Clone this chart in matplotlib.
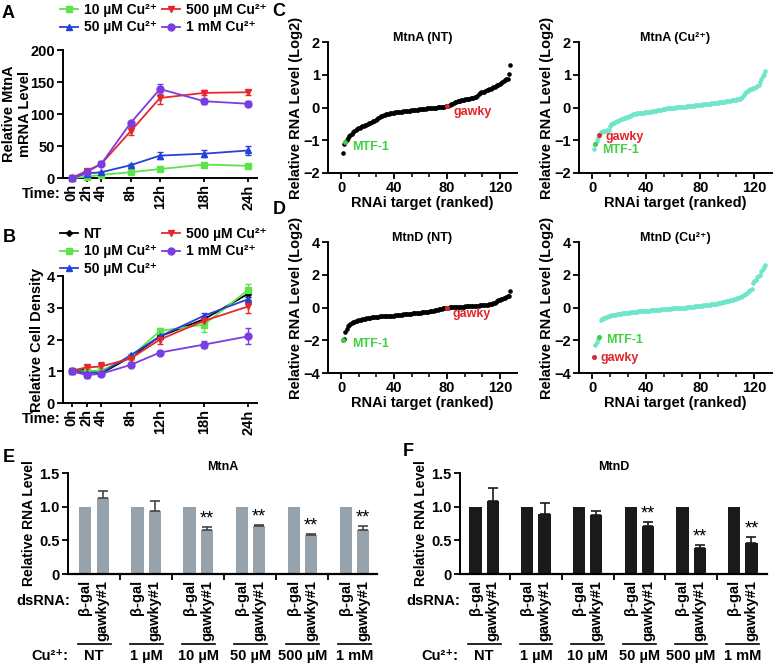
import numpy as np
import matplotlib.pyplot as plt
from matplotlib.lines import Line2D
from matplotlib.ticker import MultipleLocator

plt.rcParams['font.family'] = ['Liberation Sans', 'DejaVu Sans']
plt.rcParams['font.weight'] = 'bold'
plt.rcParams['axes.linewidth'] = 1.4

W, H = 780, 665

# ---- panel A / B : time course ----
TIMES = [0, 2, 4, 8, 12, 18, 24]
TIME_LABELS = ['0h', '2h', '4h', '8h', '12h', '18h', '24h']

A_10UM = [0, 2, 5, 9, 14, 21, 19]
A_10UM_ERR = [0.5, 0.5, 0.5, 1, 2, 3, 3]
A_50UM = [0, 7, 9, 20, 35, 38, 43]
A_50UM_ERR = [0.5, 1, 1, 2, 5, 5, 7]
A_500UM = [0, 11, 22, 73, 125, 133, 134]
A_500UM_ERR = [0.5, 2, 2, 6, 10, 4, 4]
A_1MM = [0, 9, 22, 86, 139, 120, 116]
A_1MM_ERR = [0.5, 1, 1, 2, 8, 4, 4]

B_NT = [1.0, 1.05, 0.93, 1.45, 2.1, 2.64, 3.44]
B_NT_ERR = [0.03, 0.03, 0.03, 0.05, 0.05, 0.1, 0.1]
B_10UM = [1.0, 1.0, 1.02, 1.45, 2.27, 2.47, 3.56]
B_10UM_ERR = [0.03, 0.05, 0.05, 0.05, 0.08, 0.22, 0.2]
B_50UM = [1.0, 0.95, 0.95, 1.5, 2.1, 2.75, 3.27]
B_50UM_ERR = [0.03, 0.08, 0.05, 0.05, 0.05, 0.1, 0.15]
B_500UM = [1.02, 1.12, 1.15, 1.4, 2.0, 2.59, 3.04]
B_500UM_ERR = [0.05, 0.05, 0.15, 0.1, 0.15, 0.1, 0.2]
B_1MM = [1.0, 0.88, 0.92, 1.2, 1.59, 1.84, 2.1]
B_1MM_ERR = [0.03, 0.1, 0.05, 0.05, 0.05, 0.12, 0.25]

# ---- panel C / D : ranked RNAi screen ----
MTNA_NT = [
    -1.38, -1.12, -1.05, -1.00, -0.93, -0.88, -0.84, -0.80, -0.75, -0.72,
    -0.70, -0.67, -0.64, -0.62, -0.60, -0.58, -0.56, -0.54, -0.52, -0.50,
    -0.48, -0.46, -0.44, -0.42, -0.40, -0.38, -0.36, -0.33, -0.30, -0.27,
    -0.25, -0.23, -0.22, -0.21, -0.20, -0.19, -0.18, -0.17, -0.17, -0.16,
    -0.15, -0.15, -0.14, -0.14, -0.13, -0.13, -0.12, -0.12, -0.11, -0.11,
    -0.10, -0.10, -0.09, -0.09, -0.08, -0.08, -0.07, -0.07, -0.06, -0.06,
    -0.05, -0.05, -0.04, -0.04, -0.03, -0.03, -0.02, -0.02, -0.01, -0.01,
    0.00, 0.00, 0.01, 0.01, 0.02, 0.02, 0.03, 0.03, 0.04, 0.04,
    0.06, 0.08, 0.10, 0.12, 0.14, 0.16, 0.17, 0.19, 0.20, 0.21,
    0.22, 0.23, 0.24, 0.25, 0.25, 0.26, 0.27, 0.28, 0.29, 0.30,
    0.31, 0.33, 0.36, 0.40, 0.44, 0.46, 0.47, 0.48, 0.50, 0.52,
    0.54, 0.56, 0.58, 0.60, 0.62, 0.64, 0.66, 0.68, 0.70, 0.72,
    0.74, 0.77, 0.80, 0.83, 0.86, 0.88, 1.02, 1.30]
MTNA_CU = [
    -1.28, -1.10, -1.02, -0.92, -0.85, -0.76, -0.74, -0.73, -0.72, -0.71,
    -0.70, -0.68, -0.55, -0.50, -0.48, -0.46, -0.44, -0.42, -0.40, -0.38,
    -0.36, -0.34, -0.33, -0.31, -0.30, -0.28, -0.27, -0.25, -0.23, -0.21,
    -0.20, -0.19, -0.18, -0.18, -0.17, -0.17, -0.16, -0.16, -0.15, -0.15,
    -0.14, -0.14, -0.13, -0.12, -0.11, -0.10, -0.10, -0.09, -0.08, -0.08,
    -0.07, -0.06, -0.05, -0.04, -0.03, -0.02, -0.01, -0.01, 0.00, 0.00,
    0.00, 0.01, 0.01, 0.01, 0.02, 0.02, 0.02, 0.03, 0.03, 0.04,
    0.04, 0.05, 0.05, 0.06, 0.06, 0.07, 0.07, 0.08, 0.08, 0.09,
    0.09, 0.10, 0.10, 0.11, 0.11, 0.12, 0.12, 0.13, 0.13, 0.14,
    0.14, 0.15, 0.15, 0.16, 0.16, 0.17, 0.17, 0.18, 0.19, 0.20,
    0.20, 0.21, 0.22, 0.22, 0.23, 0.24, 0.25, 0.26, 0.27, 0.28,
    0.33, 0.38, 0.43, 0.47, 0.50, 0.53, 0.55, 0.57, 0.59, 0.61,
    0.63, 0.66, 0.70, 0.78, 0.88, 0.95, 1.02, 1.12]
MTND_NT = [
    -1.98, -1.92, -1.50, -1.30, -1.15, -1.06, -1.00, -0.95, -0.91, -0.88,
    -0.85, -0.82, -0.79, -0.76, -0.74, -0.72, -0.70, -0.68, -0.66, -0.65,
    -0.64, -0.62, -0.60, -0.58, -0.57, -0.56, -0.55, -0.55, -0.54, -0.54,
    -0.53, -0.53, -0.52, -0.52, -0.51, -0.51, -0.50, -0.50, -0.49, -0.49,
    -0.48, -0.47, -0.46, -0.45, -0.44, -0.43, -0.42, -0.41, -0.40, -0.39,
    -0.38, -0.37, -0.37, -0.36, -0.36, -0.35, -0.34, -0.33, -0.32, -0.31,
    -0.30, -0.29, -0.28, -0.27, -0.26, -0.25, -0.24, -0.22, -0.21, -0.20,
    -0.18, -0.16, -0.14, -0.12, -0.10, -0.08, -0.06, -0.04, -0.02, 0.00,
    0.00, 0.01, 0.01, 0.02, 0.02, 0.03, 0.03, 0.04, 0.04, 0.05,
    0.05, 0.06, 0.06, 0.07, 0.07, 0.08, 0.08, 0.09, 0.09, 0.10,
    0.10, 0.11, 0.11, 0.12, 0.13, 0.13, 0.14, 0.15, 0.16, 0.17,
    0.18, 0.19, 0.21, 0.23, 0.26, 0.30, 0.35, 0.40, 0.43, 0.46,
    0.49, 0.52, 0.56, 0.60, 0.64, 0.69, 0.72, 1.00]
MTND_CU = [
    -3.00, -2.28, -2.12, -1.95, -1.80, -0.78, -0.72, -0.66, -0.62, -0.58,
    -0.55, -0.52, -0.50, -0.48, -0.46, -0.44, -0.43, -0.42, -0.40, -0.39,
    -0.38, -0.36, -0.35, -0.34, -0.33, -0.32, -0.31, -0.30, -0.29, -0.28,
    -0.27, -0.26, -0.25, -0.24, -0.24, -0.23, -0.22, -0.21, -0.21, -0.20,
    -0.19, -0.19, -0.18, -0.17, -0.17, -0.16, -0.15, -0.15, -0.14, -0.13,
    -0.12, -0.12, -0.11, -0.10, -0.09, -0.09, -0.08, -0.07, -0.06, -0.06,
    -0.05, -0.04, -0.04, -0.03, -0.02, -0.02, -0.01, 0.00, 0.00, 0.01,
    0.02, 0.03, 0.04, 0.05, 0.06, 0.07, 0.08, 0.09, 0.10, 0.11,
    0.12, 0.13, 0.14, 0.15, 0.16, 0.17, 0.18, 0.19, 0.20, 0.21,
    0.22, 0.24, 0.26, 0.28, 0.30, 0.32, 0.34, 0.36, 0.38, 0.40,
    0.42, 0.44, 0.46, 0.48, 0.50, 0.52, 0.55, 0.58, 0.62, 0.66,
    0.70, 0.75, 0.80, 0.85, 0.92, 1.00, 1.08, 1.15, 1.50, 1.60,
    1.65, 1.85, 1.90, 2.00, 2.20, 2.35, 2.50, 2.60]

# rank (1-based) of the highlighted genes in each screen
MTF1_RANK = {'MtnA_NT': 3, 'MtnA_Cu': 2, 'MtnD_NT': 1, 'MtnD_Cu': 5}
GAWKY_RANK = {'MtnA_NT': 80, 'MtnA_Cu': 5, 'MtnD_NT': 80, 'MtnD_Cu': 1}

# ---- panel E / F : qPCR bars ----
CU_GROUPS = ['NT', '1 µM', '10 µM', '50 µM', '500 µM', '1 mM']
BGAL = [1.0, 1.0, 1.0, 1.0, 1.0, 1.0]
E_GAWKY = [1.13, 0.94, 0.65, 0.72, 0.58, 0.65]
E_GAWKY_ERR = [0.11, 0.14, 0.05, 0.01, 0.01, 0.06]
E_STARS = [False, False, True, True, True, True]
F_GAWKY = [1.08, 0.89, 0.88, 0.72, 0.38, 0.46]
F_GAWKY_ERR = [0.20, 0.17, 0.05, 0.05, 0.05, 0.09]
F_STARS = [False, False, False, True, True, True]

GREEN = '#5ee34a'
BLUE = '#2741d8'
RED = '#e8262c'
PURPLE = '#7a3de0'
CYAN = '#6fe6c9'
MTF_GREEN = '#3fd13f'
GAWKY_RED = '#e0262b'
BAR_GRAY = '#96a3ad'
CU = 'Cu²⁺'
FS = 10.5


def rect(l, t, r, b):
    return [l / W, 1 - b / H, (r - l) / W, (b - t) / H]


def clean(ax):
    ax.spines['top'].set_visible(False)
    ax.spines['right'].set_visible(False)
    ax.tick_params(width=1.3, length=4, labelsize=FS, pad=2)


fig = plt.figure(figsize=(W / 100, H / 100), dpi=100)


def time_panel(ax, series, ylim, yticks):
    for vals, errs, color, marker, ms in series:
        ax.errorbar(TIMES, vals, yerr=errs, color=color, marker=marker, ms=ms,
                    lw=1.3, elinewidth=1.0, capsize=2.5, capthick=1.0,
                    clip_on=False, zorder=3)
    clean(ax)
    ax.set_xlim(-1.2, 25.2)
    ax.set_ylim(*ylim)
    ax.set_yticks(yticks)
    ax.set_xticks(TIMES)
    ax.set_xticklabels(TIME_LABELS, rotation=90)
    ax.tick_params(axis='x', length=3, pad=1.5)


def legend(handles, labels, top_px):
    fig.legend(handles, labels, loc='upper left', bbox_to_anchor=(60 / W, 1 - top_px / H),
               ncol=2, frameon=False, fontsize=10, handlelength=1.3, handletextpad=0.4,
               columnspacing=0.4, labelspacing=0.25, borderaxespad=0, borderpad=0)


# A
axA = fig.add_axes(rect(63, 50, 257, 178))
time_panel(axA, [(A_10UM, A_10UM_ERR, GREEN, 's', 5),
                 (A_50UM, A_50UM_ERR, BLUE, '^', 5),
                 (A_500UM, A_500UM_ERR, RED, 'v', 5),
                 (A_1MM, A_1MM_ERR, PURPLE, 'o', 5)],
           (0, 200), [0, 50, 100, 150, 200])
fig.text(17 / W, 1 - 114 / H, 'Relative MtnA\nmRNA Level', rotation=90,
         ha='center', va='center', fontsize=FS, linespacing=1.1)
fig.text(61 / W, 1 - 194 / H, 'Time:', ha='right', va='center', fontsize=FS)
hA = [Line2D([0], [0], color=c, marker=m, ms=5, lw=1.3) for c, m in
      [(GREEN, 's'), (BLUE, '^'), (RED, 'v'), (PURPLE, 'o')]]
legend(hA, ['10 µM ' + CU, '50 µM ' + CU, '500 µM ' + CU, '1 mM ' + CU], 3)

# B
axB = fig.add_axes(rect(63, 276, 257, 403))
time_panel(axB, [(B_NT, B_NT_ERR, 'black', 'D', 3),
                 (B_10UM, B_10UM_ERR, GREEN, 's', 5),
                 (B_50UM, B_50UM_ERR, BLUE, '^', 5),
                 (B_500UM, B_500UM_ERR, RED, 'v', 5),
                 (B_1MM, B_1MM_ERR, PURPLE, 'o', 5)],
           (0, 4), [0, 1, 2, 3, 4])
fig.text(37 / W, 1 - 340 / H, 'Relative Cell Density', rotation=90,
         ha='center', va='center', fontsize=FS)
fig.text(61 / W, 1 - 419 / H, 'Time:', ha='right', va='center', fontsize=FS)
hB = [Line2D([0], [0], color=c, marker=m, ms=ms, lw=1.3) for c, m, ms in
      [('black', 'D', 3), (GREEN, 's', 5), (BLUE, '^', 5), (RED, 'v', 5), (PURPLE, 'o', 5)]]
legend(hB, ['NT', '10 µM ' + CU, '50 µM ' + CU, '500 µM ' + CU, '1 mM ' + CU], 227)


def rank_panel(box, vals, color, key, title, ylim, yticks, mtf_xy, gawky_xy, ylab_x, xlab_y):
    ax = fig.add_axes(rect(*box))
    ranks = np.arange(1, len(vals) + 1)
    vals = np.array(vals)
    ax.plot(ranks, vals, 'o', color=color, ms=3.3, mew=0, clip_on=False)
    m = MTF1_RANK[key] - 1
    g = GAWKY_RANK[key] - 1
    ax.plot(ranks[m], vals[m], 'o', color=MTF_GREEN, ms=3.6, mew=0, zorder=4)
    ax.plot(ranks[g], vals[g], 'o', color=GAWKY_RED, ms=3.6, mew=0, zorder=4)
    ax.text(*mtf_xy, 'MTF-1', color=MTF_GREEN, fontsize=9, va='center', ha='left')
    ax.text(*gawky_xy, 'gawky', color=GAWKY_RED, fontsize=9, va='center', ha='left')
    clean(ax)
    ax.set_xlim(-10, 133)
    ax.set_ylim(*ylim)
    ax.set_yticks(yticks)
    ax.set_xticks([0, 40, 80, 120])
    ax.xaxis.set_minor_locator(MultipleLocator(40 / 3))
    ax.tick_params(axis='x', which='minor', length=3, width=1.1)
    ax.text(0.5, 1.03, title, transform=ax.transAxes, ha='center', va='center', fontsize=9)
    cx = (box[0] + box[2]) / 2
    cy = (box[1] + box[3]) / 2
    fig.text(ylab_x / W, 1 - cy / H, 'Relative RNA Level (Log2)', rotation=90,
             ha='center', va='center', fontsize=FS)
    fig.text(cx / W, 1 - xlab_y / H, 'RNAi target (ranked)', ha='center', va='center', fontsize=FS)
    return ax


rank_panel((328, 42, 517, 173), MTNA_NT, 'black', 'MtnA_NT', 'MtnA (NT)',
           (-2, 2), [-2, -1, 0, 1, 2], (8.5, -1.2), (85, -0.13), 296, 203)
rank_panel((579, 42, 772, 173), MTNA_CU, CYAN, 'MtnA_Cu', 'MtnA (' + CU + ')',
           (-2, 2), [-2, -1, 0, 1, 2], (7, -1.3), (10, -0.9), 547, 203)
rank_panel((328, 242, 517, 373), MTND_NT, 'black', 'MtnD_NT', 'MtnD (NT)',
           (-4, 4), [-4, -2, 0, 2, 4], (8, -2.2), (84, -0.4), 296, 403)
rank_panel((579, 242, 772, 373), MTND_CU, CYAN, 'MtnD_Cu', 'MtnD (' + CU + ')',
           (-4, 4), [-4, -2, 0, 2, 4], (10, -2.0), (6, -3.1), 547, 403)


def bar_panel(box, gawky, err, stars, color, ecolor, title, xlim, ylab_x, left_px):
    ax = fig.add_axes(rect(*box))
    pos_b = np.arange(len(CU_GROUPS)) * 3
    pos_g = pos_b + 1
    ax.bar(pos_b, BGAL, width=0.7, color=color)
    ax.bar(pos_g, gawky, width=0.7, color=color)
    ax.errorbar(pos_g, gawky, yerr=[np.zeros(len(gawky)), err], fmt='none',
                ecolor=ecolor, elinewidth=1.2, capsize=3.5, capthick=1.2)
    for p, v, e, s in zip(pos_g, gawky, err, stars):
        if s:
            ax.text(p, v + e - 0.01, '**', ha='center', va='bottom', fontsize=13,
                    fontweight='normal')
    clean(ax)
    ax.set_xlim(*xlim)
    ax.set_ylim(0, 1.5)
    ax.set_yticks([0, 0.5, 1.0, 1.5])
    ax.set_yticklabels(['0', '0.5', '1.0', '1.5'])
    ax.set_xticks(pos_b[1:] - 1)
    ax.set_xticklabels([])
    ax.spines['bottom'].set_linewidth(1.6)
    ax.text(0.5, 1.06, title, transform=ax.transAxes, ha='center', va='center', fontsize=9)
    trans = ax.get_xaxis_transform()
    hpx = box[3] - box[1]
    for pb, pg, grp in zip(pos_b, pos_g, CU_GROUPS):
        ax.text(pb, -6 / hpx, 'β-gal', rotation=90, ha='center', va='top',
                fontsize=FS, transform=trans)
        ax.text(pg, -6 / hpx, 'gawky#1', rotation=90, ha='center', va='top',
                fontsize=FS, transform=trans)
        ax.plot([pb - 0.45, pg + 0.45], [-70 / hpx] * 2, color='black', lw=1.2,
                transform=trans, clip_on=False)
        ax.text((pb + pg) / 2, -82 / hpx, grp, ha='center', va='center',
                fontsize=FS, transform=trans)
    fig.text(ylab_x / W, 1 - (box[1] + box[3]) / 2 / H, 'Relative RNA Level', rotation=90,
             ha='center', va='center', fontsize=10)
    fig.text(left_px / W, 1 - 601 / H, 'dsRNA:', ha='right', va='center', fontsize=FS)
    fig.text((left_px - 2) / W, 1 - 656 / H, CU + ':', ha='right', va='center', fontsize=FS)
    return ax


bar_panel((68, 473, 377, 574), E_GAWKY, E_GAWKY_ERR, E_STARS, BAR_GRAY, '#444444',
          'MtnA', (-1.0, 16.8), 29, 70)
bar_panel((460, 473, 767, 574), F_GAWKY, F_GAWKY_ERR, F_STARS, '#1a1a1a', '#1a1a1a',
          'MtnD', (-0.9, 16.9), 421, 460)

for letter, x, y in [('A', 8, 13), ('B', 9, 237), ('C', 279, 11), ('D', 279, 210),
                     ('E', 9, 457), ('F', 408, 451)]:
    fig.text(x / W, 1 - y / H, letter, ha='center', va='center', fontsize=13)

fig.savefig('out.png', dpi=100)
